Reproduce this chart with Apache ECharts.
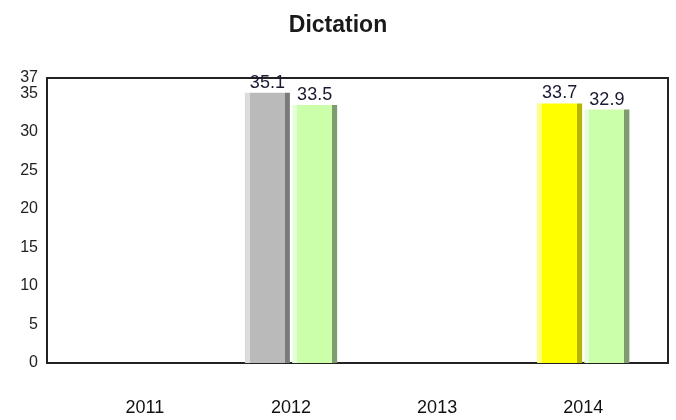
<!DOCTYPE html>
<html>
<head>
<meta charset="utf-8">
<script src="https://cdn.jsdelivr.net/npm/echarts@6/dist/echarts.min.js"></script>
<style>
html,body{margin:0;padding:0;background:#fff;}
#chart{width:676px;height:420px;}
</style>
</head>
<body>
<div id="chart"></div>
<script>
var years = [2011, 2012, 2013, 2014];
var yMax = 37;
// first bar of each year (2012 grey, 2014 yellow), second bar green
var leftYears = [2012, 2014];
var leftValues = [35.1, 33.7];
var leftColors = ['gray', 'yellow'];
var rightYears = [2012, 2014];
var rightValues = [33.5, 32.9];

// bevel look: light strip left, dark strip right
function bevel(light, main, dark){
    return new echarts.graphic.LinearGradient(0, 0, 1, 0, [
        {offset: 0, color: light},
        {offset: 0.11, color: light},
        {offset: 0.11, color: main},
        {offset: 0.89, color: main},
        {offset: 0.89, color: dark},
        {offset: 1, color: dark}
    ]);
}
var palette = {
    gray: bevel('#dcdcdc', '#bababa', '#7a7a7a'),
    yellow: bevel('#ffff80', '#ffff00', '#b5b500'),
    green: bevel('#e6ffdc', '#ccffaa', '#7e9c6e')
};

var font = 'Liberation Sans, Arial, sans-serif';
var labelStyle = {
    show: true,
    position: 'top',
    distance: 1,
    color: '#1a1a33',
    fontFamily: font,
    fontSize: 18,
    formatter: function(p){ return p.value[1]; }
};
var yLabel = {margin: 9, color: '#222', fontSize: 16, fontFamily: font};

var chart = echarts.init(document.getElementById('chart'));
var option = {
    animation: false,
    title: {
        text: 'Dictation',
        left: 'center',
        top: 9,
        textStyle: {fontFamily: font, fontSize: 23, fontWeight: 'bold', color: '#1a1a1a'}
    },
    grid: {
        left: 47, right: 8, top: 78, bottom: 57,
        show: true, borderColor: '#222', borderWidth: 2, backgroundColor: '#fff'
    },
    xAxis: {
        type: 'value',
        min: 2010.33,
        max: 2014.58,
        splitLine: {show: false},
        axisLine: {show: false},
        axisTick: {show: false},
        axisLabel: {
            customValues: years,
            margin: 36,
            color: '#111',
            fontSize: 18,
            fontFamily: font,
            formatter: function(v){ return String(v); }
        }
    },
    yAxis: [{
        type: 'value',
        min: 0,
        max: yMax,
        interval: 5,
        splitLine: {show: false},
        axisLine: {show: false},
        axisTick: {show: false},
        axisLabel: Object.assign({showMaxLabel: false}, yLabel)
    }, {
        // separate axis only for the top "37" label so it is not dropped
        type: 'value',
        position: 'left',
        min: 0,
        max: yMax,
        splitLine: {show: false},
        axisLine: {show: false},
        axisTick: {show: false},
        axisLabel: Object.assign({customValues: [yMax]}, yLabel)
    }],
    series: [{
        type: 'bar',
        barWidth: 45,
        barGap: '5%',
        data: leftYears.map(function(y, i){
            return {value: [y, leftValues[i]], itemStyle: {color: palette[leftColors[i]]}};
        }),
        label: labelStyle
    }, {
        type: 'bar',
        barWidth: 45,
        barGap: '5%',
        data: rightYears.map(function(y, i){ return [y, rightValues[i]]; }),
        itemStyle: {color: palette.green},
        label: labelStyle
    }]
};
chart.setOption(option);
</script>
</body>
</html>
